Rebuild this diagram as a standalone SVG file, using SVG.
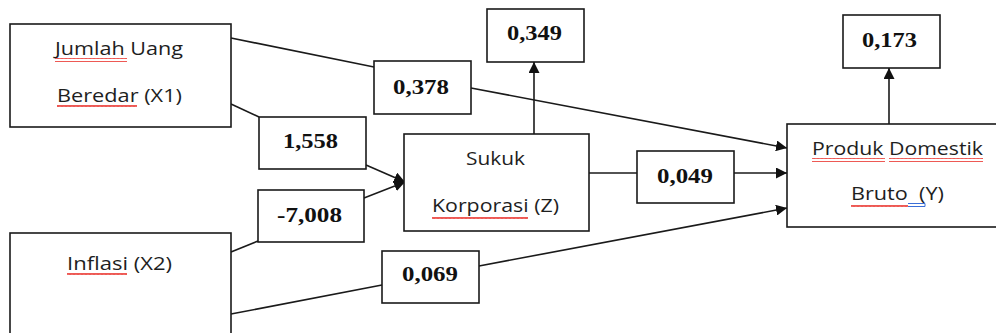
<svg xmlns="http://www.w3.org/2000/svg" width="996" height="333" viewBox="0 0 996 333">
<defs>
<style>
.box{fill:#fff;stroke:#1a1a1a;stroke-width:1.6}
.lbl{font-family:"Open Sans","Liberation Sans",sans-serif;font-size:19px;fill:#1e1e1e}
.num{font-family:"Liberation Serif","Times New Roman",serif;font-weight:bold;font-size:22px;fill:#111}
.con{fill:none;stroke:#1a1a1a;stroke-width:1.6}
.arr{marker-end:url(#ah)}
.wavy{fill:url(#wv)}
</style>
<marker id="ah" viewBox="0 0 10 10" refX="10" refY="5" markerWidth="11" markerHeight="11" markerUnits="userSpaceOnUse" orient="auto">
<path d="M0,0 L10,5 L0,10 Z" fill="#111"/>
</marker>
<pattern id="wv" width="4" height="4" patternUnits="userSpaceOnUse">
<path d="M0,3 L1,1 L2,3 L3,1 L4,3" fill="none" stroke="#e8201a" stroke-width="0.9"/>
</pattern>
</defs>

<g id="connectors">
<path class="con" d="M231,38 L374,67"/>
<path class="con arr" d="M471,88 L787,148"/>
<path class="con" d="M231,104 L259,117"/>
<path class="con arr" d="M366,165 L405,182"/>
<path class="con" d="M231,252 L258,241"/>
<path class="con arr" d="M364,198 L405,182"/>
<path class="con" d="M231,314 L382,285"/>
<path class="con arr" d="M479,266 L787,208"/>
<path class="con" d="M589,173 L637,173"/>
<path class="con arr" d="M734,173 L787,173"/>
<path class="con arr" d="M534,134 L534,62"/>
<path class="con arr" d="M889,124 L889,68"/>
</g>

<g id="x1">
<rect class="box" x="10" y="24" width="221" height="103"/>
<text class="lbl" x="55" y="55" textLength="128" lengthAdjust="spacingAndGlyphs">Jumlah Uang</text>
<text class="lbl" x="57" y="102" textLength="125" lengthAdjust="spacingAndGlyphs">Beredar (X1)</text>
<rect class="wavy" x="55" y="58" width="72" height="4"/>
<rect class="wavy" x="57" y="105" width="80" height="4"/>
</g>

<g id="x2">
<rect class="box" x="10" y="233" width="221" height="110"/>
<text class="lbl" x="67" y="270" textLength="105" lengthAdjust="spacingAndGlyphs">Inflasi (X2)</text>
<rect class="wavy" x="67" y="273" width="60" height="4"/>
</g>

<g id="z">
<rect class="box" x="404" y="134" width="185" height="97"/>
<text class="lbl" x="466" y="165" textLength="59" lengthAdjust="spacingAndGlyphs">Sukuk</text>
<text class="lbl" x="432" y="212" textLength="127" lengthAdjust="spacingAndGlyphs">Korporasi (Z)</text>
<rect class="wavy" x="432" y="215" width="96" height="4"/>
</g>

<g id="y">
<rect class="box" x="787" y="124" width="215" height="103"/>
<text class="lbl" x="812" y="155" textLength="171" lengthAdjust="spacingAndGlyphs">Produk Domestik</text>
<text class="lbl" x="851" y="200" textLength="93" lengthAdjust="spacingAndGlyphs" xml:space="preserve">Bruto  (Y)</text>
<rect class="wavy" x="812" y="158" width="73" height="4"/>
<rect class="wavy" x="889" y="158" width="94" height="4"/>
<rect class="wavy" x="851" y="203" width="57" height="4"/>
<path d="M908,203.5 H925 M908,206.5 H925 M925,203.5 V206.5" fill="none" stroke="#3b6fd8" stroke-width="1"/>
</g>

<g id="p378">
<rect class="box" x="374" y="61" width="97" height="53"/>
<text class="num" x="393" y="94" textLength="56" lengthAdjust="spacingAndGlyphs">0,378</text>
</g>

<g id="p1558">
<rect class="box" x="259" y="117" width="107" height="52"/>
<text class="num" x="283" y="148" textLength="55" lengthAdjust="spacingAndGlyphs">1,558</text>
</g>

<g id="p7008">
<rect class="box" x="258" y="190" width="106" height="52"/>
<text class="num" x="277" y="222" textLength="65" lengthAdjust="spacingAndGlyphs">-7,008</text>
</g>

<g id="p069">
<rect class="box" x="382" y="251" width="97" height="52"/>
<text class="num" x="402" y="281" textLength="56" lengthAdjust="spacingAndGlyphs">0,069</text>
</g>

<g id="p049">
<rect class="box" x="637" y="151" width="97" height="52"/>
<text class="num" x="657" y="183" textLength="56" lengthAdjust="spacingAndGlyphs">0,049</text>
</g>

<g id="r2z">
<rect class="box" x="487" y="9" width="97" height="53"/>
<text class="num" x="507" y="40" textLength="55" lengthAdjust="spacingAndGlyphs">0,349</text>
</g>

<g id="r2y">
<rect class="box" x="843" y="15" width="97" height="53"/>
<text class="num" x="862" y="47" textLength="55" lengthAdjust="spacingAndGlyphs">0,173</text>
</g>
</svg>
